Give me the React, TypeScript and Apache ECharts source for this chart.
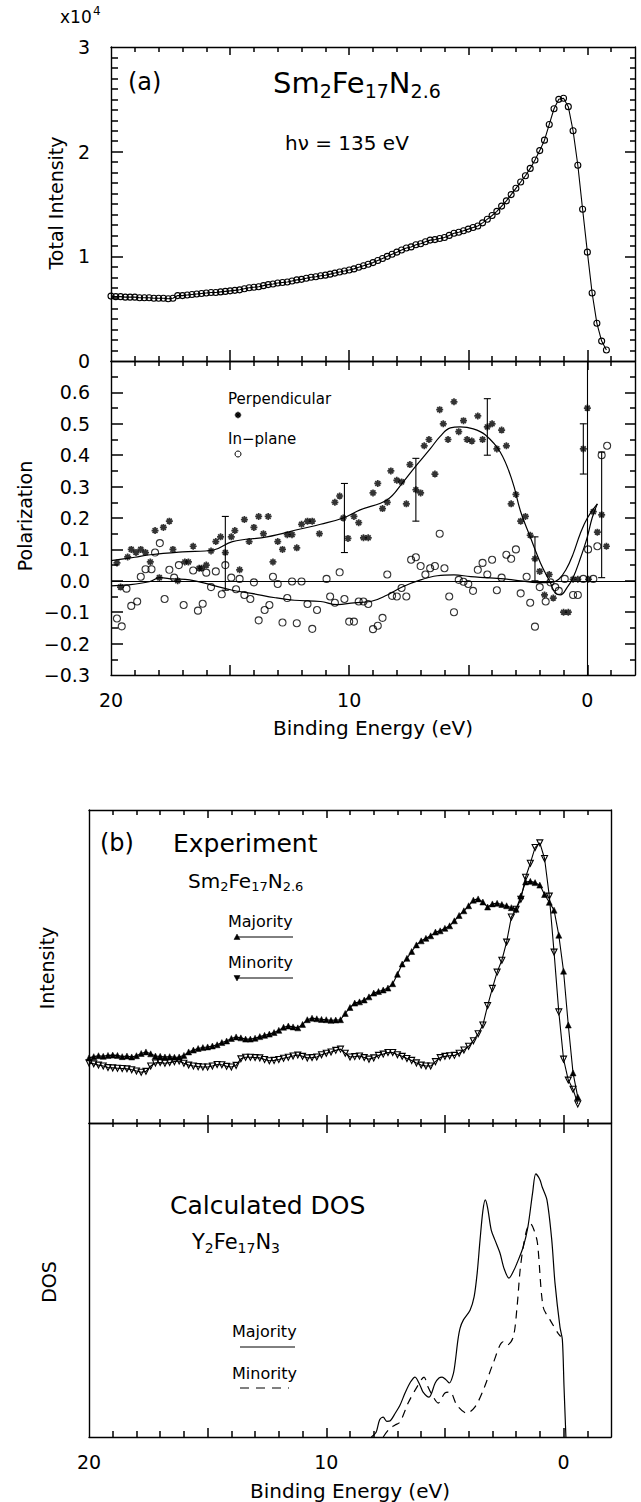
import React, { useEffect, useRef } from 'react';
import * as echarts from 'echarts';

const FONT = '"DejaVu Sans", "Noto Sans", sans-serif';
const INK = '#000';

// Energy grid of the angle-integrated scans (binding energy, eV)
const scanEnergies = [
  20.0, 19.8, 19.6, 19.4, 19.2, 19.0, 18.8, 18.6, 18.4, 18.2,
  18.0, 17.8, 17.6, 17.4, 17.2, 17.0, 16.8, 16.6, 16.4, 16.2,
  16.0, 15.8, 15.6, 15.4, 15.2, 15.0, 14.8, 14.6, 14.4, 14.2,
  14.0, 13.8, 13.6, 13.4, 13.2, 13.0, 12.8, 12.6, 12.4, 12.2,
  12.0, 11.8, 11.6, 11.4, 11.2, 11.0, 10.8, 10.6, 10.4, 10.2,
  10.0, 9.8, 9.6, 9.4, 9.2, 9.0, 8.8, 8.6, 8.4, 8.2,
  8.0, 7.8, 7.6, 7.4, 7.2, 7.0, 6.8, 6.6, 6.4, 6.2,
  6.0, 5.8, 5.6, 5.4, 5.2, 5.0, 4.8, 4.6, 4.4, 4.2,
  4.0, 3.8, 3.6, 3.4, 3.2, 3.0, 2.8, 2.6, 2.4, 2.2,
  2.0, 1.8, 1.6, 1.4, 1.2, 1.0, 0.8, 0.6, 0.4, 0.2,
  0.0, -0.2, -0.4, -0.6, -0.8,
];

// (a) total intensity, counts
const totalIntensity = [
  6200, 6150, 6150, 6100, 6100, 6100, 6050, 6050, 6050, 6000,
  6000, 6000, 5950, 6000, 6250, 6250, 6300, 6350, 6400, 6450,
  6500, 6550, 6550, 6600, 6650, 6700, 6750, 6800, 6900, 7000,
  7050, 7100, 7200, 7300, 7350, 7450, 7500, 7550, 7650, 7750,
  7800, 7900, 8000, 8050, 8150, 8200, 8300, 8400, 8500, 8600,
  8700, 8800, 8950, 9100, 9250, 9400, 9600, 9800, 10000, 10200,
  10400, 10600, 10800, 10900, 11100, 11200, 11400, 11550, 11600, 11700,
  11800, 12000, 12200, 12300, 12450, 12600, 12750, 12900, 13200, 13550,
  13900, 14300, 14800, 15300, 15900, 16500, 17100, 17700, 18400, 19200,
  20100, 21100, 22600, 24100, 25000, 25100, 24300, 22000, 18700, 14500,
  10400, 6500, 3600, 1900, 1050,
];

// (a) spin polarization, perpendicular and in-plane components [E, P]
const perpendicular: [number, number][] = [
  [19.75, 0.057], [19.6, -0.02], [19.3, 0.076], [19.15, 0.1], [18.95, 0.09], [18.75, 0.1],
  [18.55, 0.09], [18.35, 0.06], [18.15, 0.16], [17.97, 0.01], [17.8, 0.17], [17.55, 0.19],
  [17.4, 0.1], [17.2, 0.0], [16.9, 0.06], [16.75, 0.06], [16.55, 0.11], [16.3, 0.04],
  [16.2, 0.04], [16.0, 0.05], [15.8, 0.095], [15.6, 0.125], [15.4, 0.14], [15.2, 0.09],
  [14.95, 0.14], [14.8, 0.16], [14.6, 0.035], [14.4, 0.195], [14.2, 0.125], [14.0, 0.17],
  [13.8, 0.205], [13.6, 0.15], [13.4, 0.205], [13.2, 0.06], [13.0, 0.125], [12.8, 0.1],
  [12.6, 0.147], [12.4, 0.147], [12.2, 0.105], [12.0, 0.18], [11.75, 0.19], [11.55, 0.19],
  [11.25, 0.15], [10.6, 0.25], [10.4, 0.27], [10.25, 0.2], [10.05, 0.135], [9.8, 0.205],
  [9.6, 0.185], [9.4, 0.137], [9.2, 0.137], [9.0, 0.28], [8.8, 0.31], [8.6, 0.23],
  [8.4, 0.25], [8.25, 0.35], [8.0, 0.32], [7.8, 0.315], [7.6, 0.245], [7.45, 0.37],
  [7.2, 0.29], [7.0, 0.28], [6.85, 0.43], [6.65, 0.45], [6.4, 0.34], [6.2, 0.545],
  [6.05, 0.5], [5.85, 0.45], [5.6, 0.57], [5.4, 0.475], [5.2, 0.51], [5.05, 0.45],
  [4.85, 0.445], [4.6, 0.525], [4.4, 0.45], [4.2, 0.49], [4.0, 0.5], [3.8, 0.42],
  [3.6, 0.48], [3.4, 0.43], [3.2, 0.245], [3.0, 0.275], [2.8, 0.19], [2.6, 0.205],
  [2.4, 0.145], [2.2, 0.07], [2.0, 0.03], [1.8, -0.045], [1.6, 0.02], [1.43, -0.055],
  [1.0, -0.1], [0.8, -0.1], [0.6, 0.005], [0.4, 0.005], [0.17, 0.42], [0.0, 0.55],
  [-0.05, 0.005], [-0.25, 0.22], [-0.42, 0.155], [-0.6, 0.21], [-0.8, 0.11],
];

const inPlane: [number, number][] = [
  [19.75, -0.12], [19.55, -0.145], [19.35, -0.025], [19.15, -0.08], [18.9, -0.066], [18.75, 0.013],
  [18.55, 0.037], [18.3, 0.037], [18.15, 0.09], [17.95, 0.12], [17.75, -0.058], [17.55, 0.035],
  [17.35, 0.01], [17.15, 0.05], [16.95, -0.077], [16.55, 0.033], [16.35, -0.095], [16.15, -0.073],
  [16.0, 0.026], [15.8, -0.02], [15.6, 0.03], [15.35, -0.043], [15.2, 0.05], [14.95, 0.01],
  [14.75, -0.027], [14.6, 0.006], [14.4, -0.045], [14.15, -0.058], [14.0, -0.005], [13.8, -0.126],
  [13.55, -0.093], [13.35, -0.077], [13.2, 0.013], [13.0, -0.01], [12.8, -0.133], [12.6, -0.055],
  [12.4, -0.002], [12.2, -0.135], [12.0, -0.002], [11.75, -0.074], [11.55, -0.153], [11.35, -0.093],
  [10.95, 0.006], [10.8, -0.05], [10.6, -0.07], [10.4, 0.027], [10.2, -0.058], [10.0, -0.13],
  [9.8, -0.13], [9.6, -0.066], [9.4, -0.066], [9.2, -0.074], [9.0, -0.154], [8.8, -0.143],
  [8.6, -0.118], [8.4, 0.02], [8.2, -0.048], [8.0, -0.05], [7.8, -0.023], [7.6, -0.05],
  [7.4, 0.067], [7.2, 0.075], [7.0, 0.047], [6.8, 0.02], [6.6, 0.04], [6.4, 0.047],
  [6.2, 0.15], [6.0, 0.04], [5.8, -0.05], [5.6, -0.1], [5.4, 0.003], [5.2, -0.003],
  [5.0, -0.01], [4.8, -0.032], [4.6, 0.035], [4.4, 0.057], [4.2, 0.02], [4.0, 0.067],
  [3.8, -0.03], [3.6, 0.01], [3.4, 0.083], [3.2, 0.07], [3.0, 0.1], [2.8, -0.04],
  [2.55, 0.013], [2.4, -0.07], [2.2, -0.146], [2.0, -0.02], [1.75, -0.066], [1.55, -0.005],
  [1.35, -0.02], [1.2, -0.032], [0.95, 0.006], [0.6, -0.045], [0.4, -0.045], [0.17, 0.006],
  [-0.03, 0.1], [-0.25, 0.006], [-0.42, 0.11], [-0.6, 0.4], [-0.83, 0.43],
];

// smoothed guides through the two polarization components
const perpendicularFit: [number, number][] = [
  [20, 0.064], [19, 0.075], [18.35, 0.083], [17, 0.092], [15.7, 0.098], [14.9, 0.125],
  [13.45, 0.14], [12.05, 0.165], [11.2, 0.18], [10.25, 0.2], [9.54, 0.226], [8.4, 0.258],
  [7.73, 0.315], [7.23, 0.363], [6.6, 0.42], [6.18, 0.46], [5.75, 0.487], [5.34, 0.49],
  [4.79, 0.484], [4.29, 0.465], [3.66, 0.41], [3.16, 0.32], [2.8, 0.22], [2.4, 0.14],
  [1.97, 0.057], [1.55, -0.007], [1.34, -0.04], [1.13, -0.045], [0.84, -0.02], [0.6, 0.01],
  [0.3, 0.07], [0.0, 0.14], [-0.2, 0.2], [-0.42, 0.245],
];

const inPlaneFit: [number, number][] = [
  [20, -0.016], [19.3, -0.013], [18.4, -0.003], [17.95, 0.01], [17.4, 0.006], [16.7, 0.003],
  [15.8, -0.013], [14.9, -0.03], [14.1, -0.04], [13.1, -0.054], [12.3, -0.062], [11.2, -0.066],
  [10.5, -0.076], [9.8, -0.07], [9.1, -0.066], [8.4, -0.045], [7.73, -0.018], [7.0, 0.003],
  [6.3, 0.016], [5.6, 0.019], [4.9, 0.013], [4.2, 0.01], [3.5, 0.006], [2.8, 0.0],
  [2.1, -0.006], [1.5, -0.005], [1.2, 0.005], [0.9, 0.035], [0.6, 0.085], [0.3, 0.15],
  [0.0, 0.2], [-0.42, 0.245],
];

// error bars on the perpendicular component [E, low, high]
const perpendicularErrors: [number, number, number][] = [
  [15.2, -0.03, 0.205], [10.2, 0.09, 0.31], [7.2, 0.19, 0.39], [4.2, 0.4, 0.58],
  [2.2, 0.0, 0.14], [0.17, 0.34, 0.5], [-0.6, 0.01, 0.41],
];

// (b) spin-resolved spectra, arbitrary units, on scanEnergies 20.0 ... -0.6
const majorityExp = [
  20.8, 21.2, 21.5, 21.3, 21.6, 21.7, 21.6, 21.2, 21.4, 21.1,
  21.5, 22.2, 22.7, 22.1, 21.4, 21.3, 21.1, 21.2, 21.0, 21.1,
  21.6, 22.7, 23.3, 23.8, 24.1, 24.3, 24.6, 25.0, 25.7, 26.2,
  27.0, 27.5, 27.2, 26.8, 26.8, 27.1, 27.6, 28.0, 28.4, 28.9,
  29.6, 30.6, 31.0, 30.7, 30.4, 31.5, 33.0, 33.5, 33.3, 33.1,
  33.0, 32.8, 32.9, 33.0, 35.0, 36.9, 38.3, 38.7, 39.3, 40.3,
  41.5, 42.0, 42.5, 43.1, 44.5, 47.5, 50.8, 52.6, 54.8, 56.9,
  58.2, 59.0, 59.8, 61.0, 61.4, 62.2, 63.0, 64.6, 66.3, 67.8,
  69.4, 71.2, 71.6, 70.6, 69.0, 70.0, 70.2, 69.8, 69.4, 68.8,
  68.3, 72.5, 77.0, 77.2, 76.8, 76.0, 73.0, 70.5, 68.0, 60.0,
  48.5, 31.3, 16.0, 8.3,
];

const minorityExp = [
  19.2, 18.9, 18.5, 18.2, 17.7, 17.6, 17.5, 17.4, 17.3, 17.0,
  16.6, 16.2, 16.5, 18.2, 19.2, 19.3, 19.1, 19.3, 19.6, 19.8,
  19.1, 18.5, 18.2, 18.0, 17.9, 17.9, 18.2, 18.7, 18.6, 18.1,
  17.9, 18.4, 20.5, 21.0, 21.0, 20.9, 20.8, 20.3, 19.9, 20.0,
  20.3, 20.7, 21.0, 21.4, 21.7, 21.3, 20.8, 20.9, 21.1, 21.8,
  22.3, 22.7, 23.2, 23.6, 22.3, 21.1, 21.2, 21.4, 20.9, 20.4,
  20.8, 21.6, 22.0, 22.5, 22.5, 21.8, 21.3, 20.6, 20.0, 19.2,
  18.5, 18.2, 18.2, 19.6, 20.9, 21.3, 21.5, 21.6, 22.3, 23.3,
  24.5, 26.3, 28.5, 31.3, 37.5, 43.0, 48.2, 52.0, 57.8, 65.8,
  68.3, 71.5, 78.5, 83.0, 88.0, 89.5, 84.5, 72.5, 54.6, 35.5,
  20.4, 13.7, 10.8, 6.1,
];

// (b) calculated density of states of Y2Fe17N3 [E, DOS]
const dosMajority: [number, number][] = [
  [8.1, 0], [7.9, 1.5], [7.75, 5.5], [7.6, 6.3], [7.45, 5], [7.3, 5.2], [7.1, 7.5], [6.9, 10],
  [6.68, 14], [6.45, 17.5], [6.26, 19.1], [6.05, 16.5], [5.92, 14.3], [5.67, 12.7], [5.41, 17.2],
  [5.25, 18.8], [5.12, 19.1], [4.95, 18.2], [4.81, 17.2], [4.65, 20], [4.57, 23.6], [4.45, 31],
  [4.36, 34.7], [4.22, 37.3], [3.94, 40.4], [3.77, 44.6], [3.64, 52.2], [3.52, 62.7], [3.4, 72],
  [3.3, 75.5], [3.2, 73], [3.05, 66], [2.89, 62.7], [2.68, 58.6], [2.5, 53.5], [2.3, 50.6],
  [2.1, 53], [1.96, 55.4], [1.7, 60.5], [1.5, 67], [1.3, 78], [1.17, 83.8], [1.0, 82],
  [0.9, 79.6], [0.7, 75.5], [0.5, 63], [0.36, 49], [0.15, 35], [0.05, 31], [-0.02, 16], [-0.1, 0],
];

const dosMinority: [number, number][] = [
  [7.6, 0], [7.35, 2.5], [7.1, 3.8], [6.89, 4.8], [6.55, 10.8], [6.18, 15.9], [5.88, 19.1],
  [5.71, 15.9], [5.54, 13.4], [5.28, 10.8], [5.0, 14], [4.78, 14.3], [4.5, 10.2], [4.08, 7.6],
  [3.73, 9.6], [3.38, 15], [2.96, 23.6], [2.55, 30.3], [2.38, 29.3], [2.12, 31.8], [1.96, 41.4],
  [1.83, 53.2], [1.7, 60.5], [1.55, 66], [1.4, 68], [1.25, 66], [1.1, 61.8], [0.86, 41.4],
  [0.57, 37.3], [0.23, 33], [0.12, 32],
];

const E_MIN = -2;
const E_MAX = 20;
const LABELED_TICKS = [0, 10, 20];

// tick positions along the frames
const energyTicks = [19, 18, 17, 16, 15, 14, 13, 12, 11, 10, 9, 8, 7, 6, 5, 4, 3, 2, 1, 0, -1];
const intensityTicks = [
  1000, 2000, 3000, 4000, 5000, 6000, 7000, 8000, 9000, 10000,
  11000, 12000, 13000, 14000, 15000, 16000, 17000, 18000, 19000, 20000,
  21000, 22000, 23000, 24000, 25000, 26000, 27000, 28000, 29000,
];
const polarizationTicks = [
  -0.25, -0.2, -0.15, -0.1, -0.05, 0, 0.05, 0.1, 0.15, 0.2,
  0.25, 0.3, 0.35, 0.4, 0.45, 0.5, 0.55, 0.6, 0.65,
];

const GRIDS = [
  { left: 111, top: 47, width: 524, height: 314 },
  { left: 111, top: 361, width: 524, height: 314 },
  { left: 89, top: 810, width: 522, height: 313 },
  { left: 89, top: 1123, width: 522, height: 314 },
];
const Y_RANGES: [number, number][] = [[0, 30000], [-0.3, 0.7], [0, 100], [0, 100]];

const CIRCLE = 'path://M0,5A5,5,0,1,1,10,5A5,5,0,1,1,0,5Z';
const ASTERISK = 'path://M5,0L5,10M0,5L10,5M1.5,1.5L8.5,8.5M8.5,1.5L1.5,8.5';
const DOWN_TRIANGLE = 'path://M0,0L10,0L5,8.66Z';

const FRAME_WIDTH = 1.4;
const TICK_WIDTH = 1.5;

function energyAxis(gridIndex: number, position: 'top' | 'bottom', labelMargin = -1) {
  const axis: any = {
    type: 'value',
    gridIndex,
    position,
    min: E_MIN,
    max: E_MAX,
    inverse: true,
    axisLine: { show: true, onZero: false, lineStyle: { color: INK, width: FRAME_WIDTH } },
    axisTick: { show: false },
    axisLabel: { show: false },
    splitLine: { show: false },
  };
  if (labelMargin >= 0) {
    axis.axisLabel = {
      show: true,
      customValues: LABELED_TICKS,
      color: INK,
      fontFamily: FONT,
      fontSize: 19,
      margin: labelMargin,
    };
  }
  return axis;
}

function valueAxis(gridIndex: number, position: 'left' | 'right', interval?: number, formatter?: any) {
  const axis: any = {
    type: 'value',
    gridIndex,
    position,
    min: Y_RANGES[gridIndex][0],
    max: Y_RANGES[gridIndex][1],
    axisLine: { show: true, onZero: false, lineStyle: { color: INK, width: FRAME_WIDTH } },
    axisTick: { show: false },
    axisLabel: { show: false },
    splitLine: { show: false },
  };
  if (interval) axis.interval = interval;
  if (formatter) {
    axis.axisLabel = { show: true, formatter, color: INK, fontFamily: FONT, fontSize: 19, margin: 21 };
  }
  return axis;
}

const energyMajor = (v: number) => Math.abs(v % 5) < 1e-6;
const intensityMajor = (v: number) => Math.abs(v % 10000) < 1e-6;
const polarizationMajor = (v: number) => Math.round(v * 100) % 10 === 0;

// Frame ticks as a "lines" series in each grid's own coordinates.
// kind 'x': ticks on the bottom (near) and top (far) edges; 'y': on the left (near) and right (far) edges.
// near/far hold the [minor, major] tick lengths in pixels.
function tickLines(
  g: number,
  kind: 'x' | 'y',
  values: number[],
  isMajor: (v: number) => boolean,
  near: [number, number],
  far: [number, number],
) {
  const grid = GRIDS[g];
  const [lo, hi] = Y_RANGES[g];
  const perPxY = (hi - lo) / grid.height;
  const perPxX = (E_MAX - E_MIN) / grid.width;
  const data: any[] = [];
  values.forEach((v) => {
    const k = isMajor(v) ? 1 : 0;
    if (kind === 'x') {
      data.push({ coords: [[v, lo], [v, lo + near[k] * perPxY]] });
      data.push({ coords: [[v, hi], [v, hi - far[k] * perPxY]] });
    } else {
      data.push({ coords: [[E_MAX, v], [E_MAX - near[k] * perPxX, v]] });
      data.push({ coords: [[E_MIN, v], [E_MIN + far[k] * perPxX, v]] });
    }
  });
  return {
    type: 'lines',
    coordinateSystem: 'cartesian2d',
    xAxisIndex: g * 2,
    yAxisIndex: g * 2,
    silent: true,
    z: 5,
    data,
    lineStyle: { color: INK, width: TICK_WIDTH, opacity: 1, curveness: 0 },
  };
}

const txt = (x: number, y: number, text: string, fontSize: number, extra: any = {}) => ({
  type: 'text',
  x,
  y,
  silent: true,
  style: {
    text,
    fontSize,
    fontFamily: FONT,
    fill: INK,
    align: 'left',
    verticalAlign: 'middle',
    ...extra,
  },
});

const formula = (x: number, y: number, parts: string, size: number, subSize: number) =>
  txt(x, y, parts, size, {
    rich: {
      m: { fontSize: size, fontFamily: FONT, fill: INK, lineHeight: size * 1.2, verticalAlign: 'middle' },
      s: { fontSize: subSize, fontFamily: FONT, fill: INK, lineHeight: subSize, verticalAlign: 'bottom' },
    },
  });

const vlabel = (x: number, y: number, text: string, fontSize: number) => ({
  type: 'text',
  x,
  y,
  rotation: Math.PI / 2,
  silent: true,
  style: { text, fontSize, fontFamily: FONT, fill: INK, align: 'center', verticalAlign: 'middle' },
});

const seg = (x1: number, y1: number, x2: number, y2: number, extra: any = {}) => ({
  type: 'line',
  silent: true,
  shape: { x1, y1, x2, y2 },
  style: { stroke: INK, lineWidth: 1, ...extra },
});

function asteriskMark(cx: number, cy: number, r: number) {
  const d = r * 0.7;
  return {
    type: 'group',
    children: [
      seg(cx - r, cy, cx + r, cy, { lineWidth: 1.6 }),
      seg(cx, cy - r, cx, cy + r, { lineWidth: 1.6 }),
      seg(cx - d, cy - d, cx + d, cy + d, { lineWidth: 1.6 }),
      seg(cx - d, cy + d, cx + d, cy - d, { lineWidth: 1.6 }),
    ],
  };
}

const labels = [
  // panel (a)
  txt(60, 17, 'x10', 17),
  txt(93, 11, '4', 12),
  txt(128, 82, '(a)', 24),
  formula(273, 83, '{m|Sm}{s|2}{m|Fe}{s|17}{m|N}{s|2.6}', 29, 19),
  txt(285, 143, 'h\u03bd = 135 eV', 20),
  vlabel(56, 203, 'Total Intensity', 19),
  vlabel(25, 516, 'Polarization', 19),
  txt(228, 399, 'Perpendicular', 15),
  asteriskMark(238, 415, 3.2),
  txt(228, 439, 'In\u2212plane', 15),
  { type: 'circle', silent: true, shape: { cx: 238, cy: 454, r: 3 }, style: { fill: 'none', stroke: INK, lineWidth: 1 } },
  txt(373, 728, 'Binding Energy (eV)', 20, { align: 'center' }),
  // panel (b)
  txt(100, 843, '(b)', 24),
  txt(173, 843, 'Experiment', 25),
  formula(188, 881, '{m|Sm}{s|2}{m|Fe}{s|17}{m|N}{s|2.6}', 20, 13),
  txt(228, 921, 'Majority', 16),
  seg(237, 937, 293, 937),
  { type: 'polygon', silent: true, shape: { points: [[234, 939.5], [240, 939.5], [237, 934]] }, style: { fill: INK, stroke: INK, lineWidth: 0.5 } },
  txt(228, 962, 'Minority', 16),
  seg(237, 978, 293, 978),
  { type: 'polygon', silent: true, shape: { points: [[234, 975.5], [240, 975.5], [237, 981]] }, style: { fill: INK, stroke: INK, lineWidth: 0.5 } },
  vlabel(47, 968, 'Intensity', 19),
  txt(170, 1205, 'Calculated DOS', 25),
  formula(192, 1242, '{m|Y}{s|2}{m|Fe}{s|17}{m|N}{s|3}', 21, 14),
  vlabel(49, 1282, 'DOS', 19),
  txt(232, 1331, 'Majority', 16),
  seg(240, 1347, 295, 1347),
  txt(232, 1373, 'Minority', 16),
  seg(240, 1388, 289, 1388, { lineDash: [9, 7] }),
  txt(350, 1491, 'Binding Energy (eV)', 20, { align: 'center' }),
];

function buildOption(): any {
  const totalData = scanEnergies.map((e, i) => [e, totalIntensity[i]]);
  const majData = majorityExp.map((v, i) => [scanEnergies[i], v]);
  const minData = minorityExp.map((v, i) => [scanEnergies[i], v]);

  return {
    animation: false,
    backgroundColor: '#fff',
    grid: GRIDS,
    xAxis: [
      energyAxis(0, 'bottom'),
      energyAxis(0, 'top'),
      energyAxis(1, 'bottom', 15),
      energyAxis(1, 'top'),
      energyAxis(2, 'bottom'),
      energyAxis(2, 'top'),
      energyAxis(3, 'bottom', 15),
      energyAxis(3, 'top'),
    ],
    yAxis: [
      valueAxis(0, 'left', 10000, (v: number) => String(Math.round(v / 10000))),
      valueAxis(0, 'right', 10000),
      valueAxis(1, 'left', 0.1, (v: number) => {
        if (v > 0.65) return '';
        if (Math.abs(v) < 1e-9) return '0.0';
        return v.toFixed(1).replace('-', '\u2212');
      }),
      valueAxis(1, 'right', 0.1),
      valueAxis(2, 'left'),
      valueAxis(2, 'right'),
      valueAxis(3, 'left'),
      valueAxis(3, 'right'),
    ],
    series: [
      // frame ticks
      tickLines(0, 'x', energyTicks, energyMajor, [5, 11], [5, 8]),
      tickLines(0, 'y', intensityTicks, intensityMajor, [7, 12], [5, 10]),
      tickLines(1, 'x', energyTicks, energyMajor, [5, 10], [5, 9]),
      tickLines(1, 'y', polarizationTicks, polarizationMajor, [7, 12], [5, 10]),
      tickLines(2, 'x', energyTicks, energyMajor, [4, 8], [5, 8]),
      tickLines(3, 'x', energyTicks, energyMajor, [6, 9], [4, 10]),
      {
        name: 'Total Intensity',
        type: 'line',
        xAxisIndex: 0,
        yAxisIndex: 0,
        data: totalData,
        symbol: CIRCLE,
        symbolSize: 6,
        showAllSymbol: true,
        lineStyle: { color: INK, width: 1.1 },
        itemStyle: { color: 'transparent', borderColor: INK, borderWidth: 1.1 },
      },
      {
        name: 'Perpendicular fit',
        type: 'line',
        xAxisIndex: 2,
        yAxisIndex: 2,
        data: perpendicularFit,
        smooth: 0.4,
        showSymbol: false,
        lineStyle: { color: INK, width: 1.2 },
      },
      {
        name: 'In-plane fit',
        type: 'line',
        xAxisIndex: 2,
        yAxisIndex: 2,
        data: inPlaneFit,
        smooth: 0.4,
        showSymbol: false,
        lineStyle: { color: INK, width: 1.2 },
        markLine: {
          silent: true,
          symbol: 'none',
          label: { show: false },
          lineStyle: { color: INK, width: 1.1, type: 'solid' },
          data: [{ yAxis: 0 }, { xAxis: 0 }],
        },
      },
      {
        name: 'Perpendicular',
        type: 'scatter',
        xAxisIndex: 2,
        yAxisIndex: 2,
        data: perpendicular,
        symbol: ASTERISK,
        symbolSize: 7,
        itemStyle: { color: 'transparent', borderColor: INK, borderWidth: 1.7 },
      },
      {
        name: 'In-plane',
        type: 'scatter',
        xAxisIndex: 2,
        yAxisIndex: 2,
        data: inPlane,
        symbol: CIRCLE,
        symbolSize: 7,
        itemStyle: { color: 'transparent', borderColor: INK, borderWidth: 1.1 },
      },
      {
        name: 'Error bars',
        type: 'custom',
        xAxisIndex: 2,
        yAxisIndex: 2,
        data: perpendicularErrors,
        encode: { x: 0, y: [1, 2] },
        renderItem: (_params: any, api: any) => {
          const e = api.value(0);
          const lo = api.coord([e, api.value(1)]);
          const hi = api.coord([e, api.value(2)]);
          const cap = 3.5;
          const style = { stroke: INK, lineWidth: 1.1 };
          return {
            type: 'group',
            children: [
              { type: 'line', shape: { x1: lo[0], y1: lo[1], x2: hi[0], y2: hi[1] }, style },
              { type: 'line', shape: { x1: lo[0] - cap, y1: lo[1], x2: lo[0] + cap, y2: lo[1] }, style },
              { type: 'line', shape: { x1: hi[0] - cap, y1: hi[1], x2: hi[0] + cap, y2: hi[1] }, style },
            ],
          };
        },
      },
      {
        name: 'Majority',
        type: 'line',
        xAxisIndex: 4,
        yAxisIndex: 4,
        data: majData,
        symbol: 'triangle',
        symbolSize: 6,
        showAllSymbol: true,
        lineStyle: { color: INK, width: 1.1 },
        itemStyle: { color: INK, borderColor: INK, borderWidth: 0.5 },
      },
      {
        name: 'Minority',
        type: 'line',
        xAxisIndex: 4,
        yAxisIndex: 4,
        data: minData,
        symbol: DOWN_TRIANGLE,
        symbolSize: 6,
        showAllSymbol: true,
        lineStyle: { color: INK, width: 1.1 },
        itemStyle: { color: 'transparent', borderColor: INK, borderWidth: 1.1 },
      },
      {
        name: 'DOS majority',
        type: 'line',
        xAxisIndex: 6,
        yAxisIndex: 6,
        data: dosMajority,
        smooth: 0.3,
        showSymbol: false,
        lineStyle: { color: INK, width: 1.2 },
      },
      {
        name: 'DOS minority',
        type: 'line',
        xAxisIndex: 6,
        yAxisIndex: 6,
        data: dosMinority,
        smooth: 0.3,
        showSymbol: false,
        lineStyle: { color: INK, width: 1.2, type: [8, 6] },
      },
    ],
    graphic: labels,
  };
}

export default function App() {
  const ref = useRef<HTMLDivElement>(null);

  useEffect(() => {
    document.body.style.margin = '0';
    if (!ref.current) return;
    const chart = echarts.init(ref.current, undefined, { renderer: 'svg' });
    chart.setOption(buildOption());
    return () => chart.dispose();
  }, []);

  return <div ref={ref} style={{ width: 641, height: 1502, background: '#fff' }} />;
}
